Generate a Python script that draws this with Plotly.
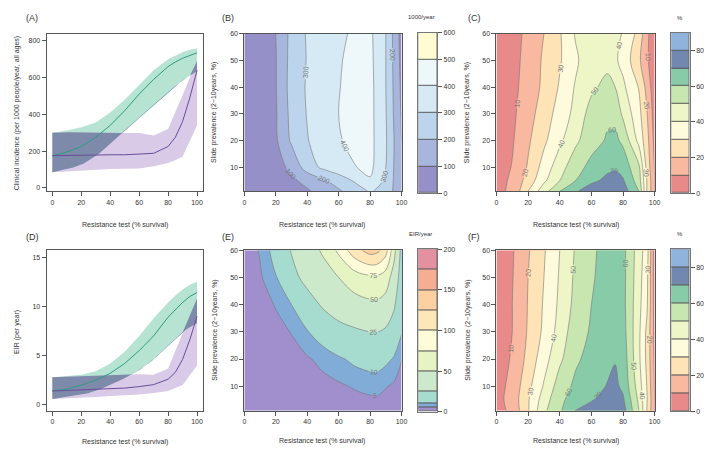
import numpy as np
import plotly.graph_objects as go

W, H = 712, 451
FONT = 'Liberation Sans, Arial, sans-serif'

# ---- (A) and (D): output vs resistance test ----
surv = [0, 10, 20, 30, 40, 50, 60, 70, 80, 85, 90, 95, 100]

inc_green = [175, 195, 225, 275, 340, 420, 510, 590, 660, 685, 705, 722, 735]
inc_green_lo = [85, 100, 125, 170, 240, 310, 380, 450, 520, 555, 585, 612, 635]
inc_green_hi = [300, 312, 330, 355, 410, 480, 560, 640, 700, 718, 738, 752, 760]
inc_purple = [175, 177, 176, 180, 180, 180, 183, 188, 225, 275, 360, 490, 640]
inc_purple_lo = [85, 90, 95, 100, 102, 104, 105, 118, 135, 150, 170, 255, 340]
inc_purple_hi = [300, 302, 302, 300, 300, 298, 298, 285, 320, 415, 505, 600, 690]

eir_green = [1.4, 1.6, 2.0, 2.5, 3.2, 4.2, 5.5, 7.0, 8.9, 9.7, 10.4, 11.0, 11.4]
eir_green_lo = [0.6, 0.8, 1.0, 1.4, 2.0, 2.7, 3.5, 4.6, 6.0, 6.7, 7.4, 7.9, 8.3]
eir_green_hi = [2.8, 2.9, 3.05, 3.4, 4.2, 5.4, 7.0, 8.8, 10.4, 11.1, 11.7, 12.2, 12.5]
eir_purple = [1.4, 1.45, 1.5, 1.55, 1.6, 1.7, 1.85, 2.05, 2.6, 3.3, 4.6, 6.6, 9.0]
eir_purple_lo = [0.6, 0.65, 0.7, 0.8, 0.9, 0.95, 1.05, 1.2, 1.4, 1.7, 2.0, 3.0, 4.0]
eir_purple_hi = [2.8, 2.85, 2.9, 2.95, 3.0, 3.05, 3.1, 3.05, 3.7, 5.5, 7.3, 9.0, 10.8]

# ---- contour panels: slide prevalence (rows) x resistance test (cols) ----
prev = [1, 5, 10, 20, 30, 40, 50, 60]

inc_x = [0, 10, 20, 30, 40, 50, 60, 70, 80, 90, 95, 100]
inc_z = [
    [15, 30, 50, 70, 90, 130, 185, 250, 310, 265, 190, 110],
    [20, 40, 60, 85, 125, 185, 250, 310, 390, 280, 195, 110],
    [25, 45, 65, 120, 250, 320, 360, 395, 425, 300, 200, 110],
    [30, 55, 85, 215, 295, 345, 390, 430, 430, 310, 205, 100],
    [30, 60, 90, 230, 305, 350, 400, 440, 430, 305, 195, 90],
    [30, 60, 95, 240, 310, 355, 395, 440, 430, 300, 190, 80],
    [30, 60, 95, 235, 305, 350, 390, 430, 425, 300, 185, 70],
    [30, 60, 100, 230, 310, 345, 380, 415, 420, 300, 180, 60],
]

pct_x = [0, 10, 20, 30, 40, 50, 60, 70, 75, 80, 90, 95, 100]
c_z = [
    [8, 11.5, 30, 46, 60, 69, 75, 77, 78, 75, 60, 30, 10],
    [5.5, 12, 24, 38, 50, 60, 68, 72, 73, 71, 55, 30, 10],
    [5, 10.5, 21, 34, 46, 56, 63, 68, 69, 66, 52, 27, 9],
    [4, 9, 18.5, 28, 38, 48, 56, 61, 62, 58, 37, 24, 7],
    [3.5, 8, 16, 25, 34, 43, 54, 58, 57, 48, 33, 21, 5],
    [3, 7, 14.5, 22, 31, 41, 48, 53, 50, 42, 29.5, 17, 3],
    [3, 6.5, 13.5, 21.5, 29, 38, 48, 47, 41.5, 37, 22, 12, 2],
    [3, 6, 12.5, 20, 29, 41, 46, 46, 44, 39, 27, 13, 2],
]
f_z = [
    [6, 12.5, 29, 48, 58.5, 70.5, 73, 75, 76, 75, 50, 30, 10],
    [6.5, 14, 29, 45, 58, 64, 69.5, 73, 74, 71.5, 48, 31, 10],
    [6, 13, 27, 41, 55, 62, 66, 70.5, 72, 68, 45, 30, 9],
    [5, 11, 23, 36, 48, 58.5, 63, 67, 69.5, 66, 42, 28, 8],
    [4.5, 10, 21, 32, 44, 56, 61, 65, 66, 64, 42, 28, 7],
    [4, 10, 20.5, 31, 42, 53, 60, 64, 65, 63, 43, 32, 6],
    [4, 9.5, 20, 30, 41, 52, 59, 63.5, 64.5, 63, 44, 33, 5],
    [4, 9, 19, 29, 40, 51, 58.5, 63, 64, 63, 45, 35, 5],
]

eir_x = [0, 10, 20, 30, 40, 50, 60, 70, 80, 85, 90, 95, 100]
eir_z = [
    [0.2, 0.4, 0.6, 0.8, 1.0, 1.3, 1.6, 2.0, 2.3, 2.3, 2.0, 1.5, 1.0],
    [0.4, 0.7, 1.1, 1.5, 1.9, 2.3, 2.9, 3.6, 4.2, 4.2, 3.6, 2.8, 1.8],
    [0.5, 1.0, 1.5, 2.0, 2.6, 3.3, 4.2, 5.5, 6.5, 6.5, 5.3, 4.2, 2.8],
    [0.7, 1.5, 2.4, 3.4, 4.4, 6.5, 9.0, 11.5, 13, 13, 11.5, 9.5, 5.2],
    [0.9, 2.2, 3.6, 5.2, 9.5, 14, 18.5, 22, 25, 25, 22, 16, 10.5],
    [1.2, 3.0, 5.3, 10, 18, 27, 35, 41, 45, 45, 40, 28, 12],
    [1.5, 4.2, 9.5, 20, 30, 40, 50, 62, 70, 70, 62, 40, 15],
    [2, 5.5, 13, 26, 39, 53, 80, 115, 135, 130, 110, 60, 18],
]

# colour key levels
inc_levels = [0, 100, 200, 300, 400, 500, 600]
inc_colors = ['#9590c8', '#a6b6dc', '#bcd5ec', '#d6eaf5', '#eef7fa', '#fefcd2']
pct_levels = [0, 10, 20, 30, 40, 50, 60, 70, 80, 90]
pct_colors = ['#e88a8a', '#f9b8a0', '#fde3b5', '#fefbdd', '#eef6c7',
              '#c8e6b0', '#88cba8', '#7288ae', '#8fb3dc']
eir_levels = [0, 5, 10, 25, 50, 75, 100, 125, 150, 175, 200]
eir_colors = ['#a08fcc', '#82acd8', '#a6dccf', '#cde9cc', '#e6f3c3',
              '#fdfcd8', '#fde7b8', '#fcd0a0', '#f6ad94', '#e590a0']

GREEN_BAND, PURPLE_BAND, OVERLAP = '#b7e3d3', '#d9cbe7', '#7d8aa9'
GREEN_LINE, PURPLE_LINE = '#2e9c82', '#6a4c9c'


def stepped_scale(bounds, colors, start, end, size):
    lo_v, hi_v = start - size / 2, end + size / 2
    scale = []
    for i, c in enumerate(colors):
        a = min(max((bounds[i] - lo_v) / (hi_v - lo_v), 0), 1)
        b = min(max((bounds[i + 1] - lo_v) / (hi_v - lo_v), 0), 1)
        scale += [[a, c], [b, c]]
    return scale


def ref(i, kind):
    return kind + ('' if i == 1 else str(i))


def band(x, lo, hi, color, ax):
    return go.Scatter(x=list(x) + list(x)[::-1], y=list(lo) + list(hi)[::-1], fill='toself',
                      fillcolor=color, line=dict(width=0), mode='lines', hoverinfo='skip',
                      xaxis=ref(ax, 'x'), yaxis=ref(ax, 'y'))


def line_panel(fig, ax, g, g_lo, g_hi, p, p_lo, p_hi):
    fig.add_trace(band(surv, g_lo, g_hi, GREEN_BAND, ax))
    fig.add_trace(band(surv, p_lo, p_hi, PURPLE_BAND, ax))
    # where the two uncertainty bands overlap
    xf = np.linspace(0, 100, 401)
    lo = np.maximum(np.interp(xf, surv, g_lo), np.interp(xf, surv, p_lo))
    hi = np.minimum(np.interp(xf, surv, g_hi), np.interp(xf, surv, p_hi))
    hi = np.maximum(hi, lo)
    fig.add_trace(band(xf, lo, hi, OVERLAP, ax))
    for y, c in [(g, GREEN_LINE), (p, PURPLE_LINE)]:
        fig.add_trace(go.Scatter(x=surv, y=y, mode='lines', line=dict(color=c, width=1),
                                 hoverinfo='skip', xaxis=ref(ax, 'x'), yaxis=ref(ax, 'y')))


def contour_fill(x, z, bounds, colors, start, end, size, ax, lines=True):
    return go.Contour(
        x=x, y=prev, z=z, xaxis=ref(ax, 'x'), yaxis=ref(ax, 'y'), autocontour=False,
        contours=dict(start=start, end=end, size=size, coloring='fill', showlabels=lines,
                      labelfont=dict(family=FONT, size=7, color='#777')),
        colorscale=stepped_scale(bounds, colors, start, end, size), showscale=False,
        line=dict(color='#777', width=0.6 if lines else 0), hoverinfo='skip')


def key_bar(bounds, colors, ax):
    return go.Bar(x=[0] * len(colors), y=np.diff(bounds), base=bounds[:-1], width=1,
                  marker=dict(color=colors, line=dict(color='#555', width=0.8)),
                  hoverinfo='skip', xaxis=ref(ax, 'x'), yaxis=ref(ax, 'y'))


fig = go.Figure()

line_panel(fig, 1, inc_green, inc_green_lo, inc_green_hi, inc_purple, inc_purple_lo, inc_purple_hi)
line_panel(fig, 4, eir_green, eir_green_lo, eir_green_hi, eir_purple, eir_purple_lo, eir_purple_hi)

fig.add_trace(contour_fill(inc_x, inc_z, inc_levels, inc_colors, 100, 500, 100, 2))
fig.add_trace(contour_fill(pct_x, c_z, pct_levels, pct_colors, 10, 80, 10, 3))
fig.add_trace(contour_fill(pct_x, f_z, pct_levels, pct_colors, 10, 80, 10, 6))
fig.add_trace(contour_fill(eir_x, eir_z, eir_levels, eir_colors, 5, 195, 5, 5, lines=False))
for lev in eir_levels[1:-3]:
    fig.add_trace(go.Contour(
        x=eir_x, y=prev, z=eir_z, xaxis='x5', yaxis='y5', autocontour=False,
        contours=dict(start=lev, end=lev, size=1000, coloring='none', showlabels=True,
                      labelfont=dict(family=FONT, size=7, color='#777')),
        line=dict(color='#777', width=0.6), showscale=False, hoverinfo='skip'))

fig.add_trace(key_bar(inc_levels, inc_colors, 7))
fig.add_trace(key_bar(pct_levels, pct_colors, 8))
fig.add_trace(key_bar(eir_levels, eir_colors, 9))
fig.add_trace(key_bar(pct_levels, pct_colors, 10))

tick_font = dict(family=FONT, size=7, color='#333')
base_axis = dict(showline=True, mirror=True, linecolor='#555', linewidth=1, ticks='outside',
                 ticklen=4, tickcolor='#555', tickfont=tick_font, showgrid=False,
                 zeroline=False, fixedrange=True)


def xdom(a, b):
    return [a / W, b / W]


def ydom(top, bottom):
    return [1 - bottom / H, 1 - top / H]


top_row, bot_row = (22, 182), (242, 405)
panels = {
    1: (xdom(37, 195), ydom(*top_row), [-4, 104], [-18, 839], [0, 200, 400, 600, 800]),
    2: (xdom(237, 396), ydom(*top_row), [0, 100], [1, 60], [10, 20, 30, 40, 50, 60]),
    3: (xdom(492, 652), ydom(*top_row), [0, 100], [1, 60], [10, 20, 30, 40, 50, 60]),
    4: (xdom(37, 195), ydom(*bot_row), [-4, 104], [-0.6, 15.7], [0, 5, 10, 15]),
    5: (xdom(237, 396), ydom(*bot_row), [0, 100], [1, 60], [10, 20, 30, 40, 50, 60]),
    6: (xdom(492, 652), ydom(*bot_row), [0, 100], [1, 60], [10, 20, 30, 40, 50, 60]),
}
layout = {}
for i, (xd, yd, xr, yr, yt) in panels.items():
    layout[ref(i, 'x').replace('x', 'xaxis')] = dict(
        base_axis, domain=xd, range=xr, anchor=ref(i, 'y'), tickvals=[0, 20, 40, 60, 80, 100])
    layout[ref(i, 'y').replace('y', 'yaxis')] = dict(
        base_axis, domain=yd, range=yr, anchor=ref(i, 'x'), tickvals=yt)

keys = {
    7: (xdom(413, 432), ydom(21, 184), 600, [0, 100, 200, 300, 400, 500, 600]),
    8: (xdom(669, 687.5), ydom(21, 184), 90, [0, 20, 40, 60, 80]),
    9: (xdom(413, 432), ydom(241, 406), 200, [0, 50, 100, 150, 200]),
    10: (xdom(669, 687.5), ydom(241, 405.5), 90, [0, 20, 40, 60, 80]),
}
for i, (xd, yd, top, tv) in keys.items():
    layout['xaxis' + str(i)] = dict(domain=xd, range=[-0.5, 0.5], anchor='y' + str(i),
                                    showticklabels=False, showline=True, mirror=True,
                                    linecolor='#777', linewidth=1, showgrid=False,
                                    zeroline=False, fixedrange=True)
    layout['yaxis' + str(i)] = dict(base_axis, domain=yd, range=[0, top], anchor='x' + str(i),
                                    side='right', tickvals=tv, linecolor='#777', mirror=True)


def note(text, x, y, size=7, angle=0, xanchor='center'):
    return dict(text=text, x=x / W, y=1 - y / H, xref='paper', yref='paper', showarrow=False,
                font=dict(family=FONT, size=size, color='#333'), textangle=angle,
                xanchor=xanchor, yanchor='middle')


xtitle = 'Resistance test (% survival)'
ytitle = 'Slide prevalence (2\u221210years, %)'
annotations = [
    note('(A)', 14, 6, 9, xanchor='left'), note('(B)', 212, 6, 9, xanchor='left'),
    note('(C)', 461, 6, 9, xanchor='left'), note('(D)', 14, 229, 9, xanchor='left'),
    note('(E)', 212, 229, 9, xanchor='left'), note('(F)', 461, 229, 9, xanchor='left'),
    note(xtitle, 116, 216), note(xtitle, 316, 216), note(xtitle, 572, 216),
    note(xtitle, 116, 437), note(xtitle, 316, 436), note(xtitle, 572, 436),
    note('Clinical incidence (per 1000 people/year, all ages)', 7, 103, angle=-90),
    note('EIR (per year)', 7, 325, angle=-90),
    note(ytitle, 207, 102, angle=-90), note(ytitle, 463, 102, angle=-90),
    note(ytitle, 207, 323, angle=-90), note(ytitle, 463, 323, angle=-90),
    note('1000/year', 416, 5, 6), note('%', 678, 6, 6),
    note('EIR/year', 415, 226, 6), note('%', 678, 226, 6),
]

fig.update_layout(
    width=W, height=H, margin=dict(l=0, r=0, t=0, b=0),
    paper_bgcolor='white', plot_bgcolor='white', showlegend=False,
    bargap=0, barmode='overlay', font=dict(family=FONT, size=7, color='#333'),
    annotations=annotations, **layout)

fig.write_html("out.html")
